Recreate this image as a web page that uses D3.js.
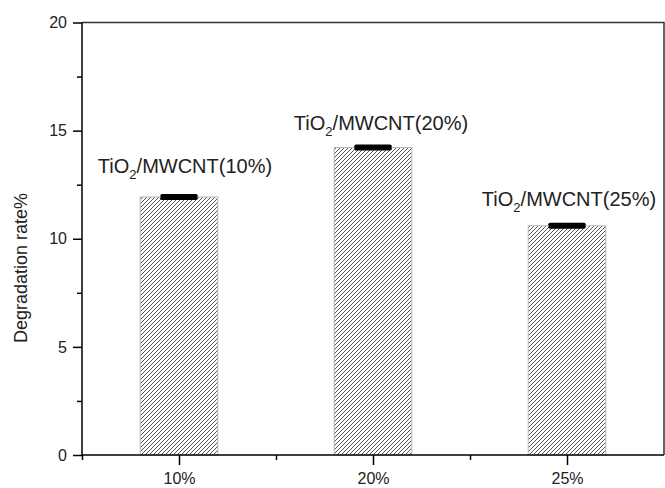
<!DOCTYPE html>
<html>
<head>
<meta charset="utf-8">
<script src="https://cdn.jsdelivr.net/npm/d3@7"></script>
<style>
  body { margin: 0; background: #fff; }
  svg { display: block; font-family: "Liberation Sans", Arial, sans-serif; }
</style>
</head>
<body>
<svg id="chart" width="665" height="488"></svg>
<script>
// data
const categories = ["10%", "20%", "25%"];
const values = [11.93, 14.22, 10.6];
const errors = [0.06, 0.06, 0.06];
const labelSuffix = ["(10%)", "(20%)", "(25%)"];
const yTicks = [0, 5, 10, 15, 20];
const yMinorTicks = [2.5, 7.5, 12.5, 17.5];

// layout: label nudges relative to bar top (pixels)
const labelDx = [6, 8, 2];
const labelDy = [-24, -17, -20];

const svg = d3.select("#chart");
const plotL = 82, plotR = 664, plotT = 22.5, plotB = 455;

const x = d3.scaleLinear().domain([0.5, 3.5]).range([plotL, plotR]);
const y = d3.scaleLinear().domain([0, 20]).range([plotB, plotT]);
const barW = x(1.2) - x(0.8);

// hatch pattern "/"
const hs = 4;
const defs = svg.append("defs");
const pat = defs.append("pattern")
    .attr("id", "hatch")
    .attr("patternUnits", "userSpaceOnUse")
    .attr("width", hs).attr("height", hs);
pat.append("rect").attr("width", hs).attr("height", hs).attr("fill", "#fff");
pat.append("path")
    .attr("d", `M-1,1L1,-1M0,${hs}L${hs},0M${hs - 1},${hs + 1}L${hs + 1},${hs - 1}`)
    .attr("stroke", "#555")
    .attr("stroke-width", 1);

// frame (top and right)
svg.append("path")
    .attr("d", `M${plotL},${plotT}H${plotR}V${plotB}`)
    .attr("fill", "none")
    .attr("stroke", "#333")
    .attr("stroke-width", 1.5);

// bars
svg.append("g").selectAll("rect")
    .data(values)
    .join("rect")
    .attr("x", (d, i) => x(i + 1) - barW / 2)
    .attr("y", d => y(d))
    .attr("width", barW)
    .attr("height", d => y(0) - y(d))
    .attr("fill", "url(#hatch)")
    .attr("stroke", "#b8b8b8")
    .attr("stroke-width", 1);

// error bars (very small)
const err = svg.append("g").attr("stroke", "#000").attr("stroke-linecap", "round");
values.forEach((v, i) => {
    const cx = x(i + 1);
    [v - errors[i], v + errors[i]].forEach(e => {
        err.append("line")
            .attr("x1", cx - 17).attr("x2", cx + 17)
            .attr("y1", y(e)).attr("y2", y(e))
            .attr("stroke-width", 3.5);
    });
});

// y axis
const yAxis = svg.append("g").attr("transform", `translate(${plotL},0)`);
yAxis.call(d3.axisLeft(y).tickValues(yTicks).tickSize(9).tickPadding(6));
yAxis.append("g").call(d3.axisLeft(y).tickValues(yMinorTicks).tickSize(5).tickFormat(""))
    .select(".domain").remove();
yAxis.selectAll(".domain").attr("d", `M0,${plotB}V${plotT}`);

// x axis
const xAxis = svg.append("g").attr("transform", `translate(0,${plotB})`);
xAxis.call(d3.axisBottom(x).tickValues([1, 2, 3]).tickSize(10).tickPadding(8)
    .tickFormat((d, i) => categories[i]));
xAxis.append("g").call(d3.axisBottom(x).tickValues([0.5, 1.5, 2.5]).tickSize(5).tickFormat(""))
    .select(".domain").remove();
xAxis.selectAll(".domain").attr("d", `M${plotL},0H${plotR}`);

svg.selectAll(".domain").attr("stroke", "#000").attr("stroke-width", 1.5);
svg.selectAll(".tick line").attr("stroke", "#000").attr("stroke-width", 1.5);
svg.selectAll(".tick text")
    .attr("font-size", 16)
    .attr("fill", "#222")
    .attr("font-family", "Liberation Sans, Arial, sans-serif");

// axis title
svg.append("text")
    .attr("transform", "translate(27,268) rotate(-90)")
    .attr("text-anchor", "middle")
    .attr("font-size", 18)
    .attr("fill", "#222")
    .text("Degradation rate%");

// bar labels
const labels = svg.append("g")
    .attr("font-size", 20)
    .attr("fill", "#222")
    .attr("text-anchor", "middle");
values.forEach((v, i) => {
    const t = labels.append("text")
        .attr("x", x(i + 1) + labelDx[i])
        .attr("y", y(v) + labelDy[i]);
    t.append("tspan").text("TiO");
    t.append("tspan").attr("font-size", 13).attr("dy", 6).text("2");
    t.append("tspan").attr("dy", -6).text("/MWCNT" + labelSuffix[i]);
});
</script>
</body>
</html>
